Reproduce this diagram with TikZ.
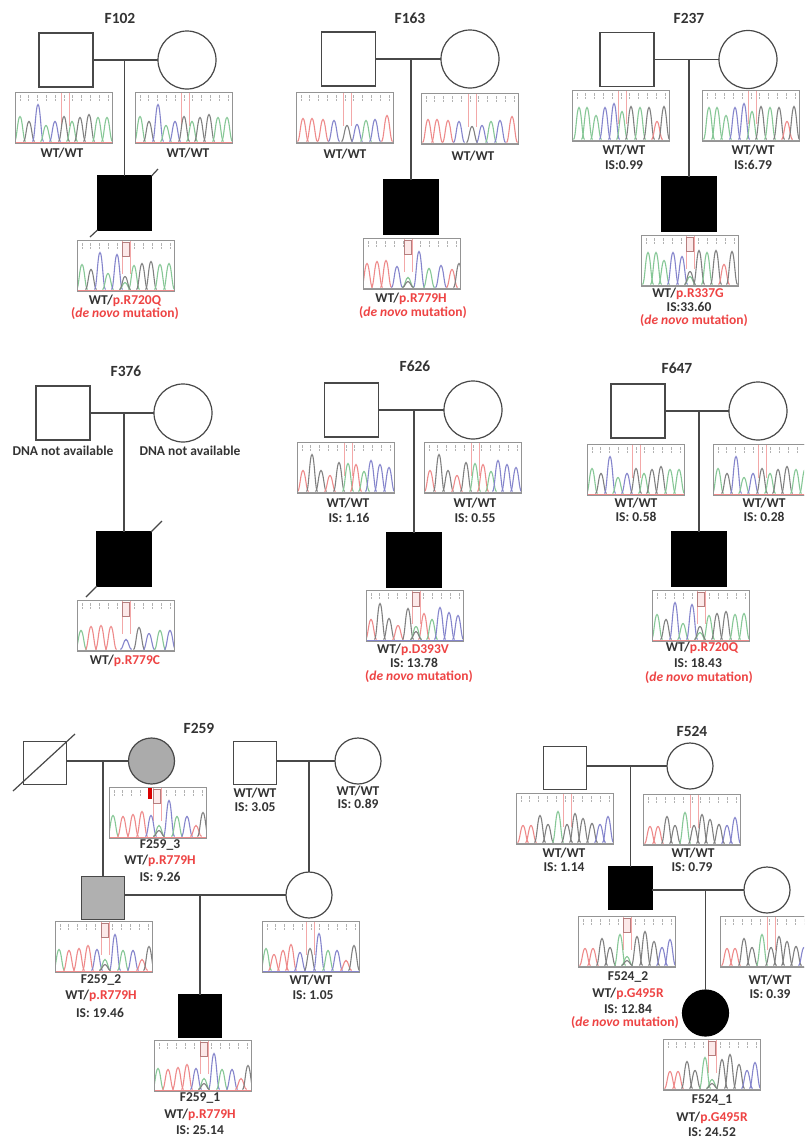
\documentclass[tikz,border=0pt]{standalone}
\usepackage{fontspec}
\setmainfont{Carlito}
\definecolor{tg}{HTML}{86C796}
\definecolor{tk}{HTML}{808080}
\definecolor{tb}{HTML}{8585CC}
\definecolor{tr}{HTML}{EE8A8A}
\definecolor{mred}{HTML}{EE4444}
\definecolor{ink}{HTML}{333333}
\definecolor{lineink}{HTML}{484848}
\definecolor{pinkband}{HTML}{F3A8A8}
\tikzset{
  person/.style={draw=lineink,line width=1.2pt,fill=white,inner sep=0pt,outer sep=0pt},
  sqr/.style={person,rectangle,minimum size=#1},
  crc/.style={person,circle,minimum size=#1},
  aff/.style={fill=black,draw=black},
  conn/.style={draw=lineink,line width=1.2pt},
  lab/.style={inner sep=0pt,text=ink,font=\fontsize{13.5}{14}\selectfont\bfseries},
  ttl/.style={inner sep=0pt,text=ink,font=\fontsize{15.5}{16}\selectfont\bfseries},
  chrombox/.style={draw=black!42,line width=1pt,fill=white,minimum width=97pt,minimum height=51pt,inner sep=0pt,outer sep=0pt,anchor=north west},
  trace/.style={line width=1.1pt}
}
\newcommand{\mutc}[1]{\textcolor{mred}{#1}}
\newcommand{\denovo}{\textcolor{mred}{(\textit{de novo} mutation)}}
\newcommand{\lab}[4]{\node[lab] (#1) at (#2,#3) {#4};}
% name, x, y, centre offset, peak list, baseline colour, mutant flag
\newcommand{\chrom}[7]{%
  \node[chrombox] (#1) at (#2,#3) {};
  \begin{scope}
    \clip (#2,#3) rectangle ++(97,51);
    \foreach \t in {5,13.8,...,94}{
      \draw[black!30,line width=0.8pt] ({#2+\t},{#3+3}) -- ++(0,2.5) ({#2+\t},{#3+6.5}) -- ++(0,2);
    }
    \draw[pinkband,line width=0.9pt] ({#2+#4-4},{#3+1}) -- ++(0,33) ({#2+#4+4},{#3+1}) -- ++(0,33);
    \ifnum#7=1
      \draw[black!25!pinkband,line width=0.8pt,fill=pinkband!25] ({#2+#4-3.5},{#3+2}) rectangle ++(7,14);
    \fi
    \foreach \o/\c/\h in #5{
      \draw[trace,\c] ({#2+\o-5.5},{#3+49.5}) .. controls ({#2+\o-3.2},{#3+49.5}) and ({#2+\o-2.4},{#3+49.5-\h}) .. ({#2+\o},{#3+49.5-\h})
        .. controls ({#2+\o+2.4},{#3+49.5-\h}) and ({#2+\o+3.2},{#3+49.5}) .. ({#2+\o+5.5},{#3+49.5});
    }
    \draw[#6,line width=1pt] (#2,{#3+50}) -- ++(97,0);
  \end{scope}
  \draw[black!42,line width=1pt] (#2,#3) rectangle ++(97,51);
}
\def\pA{5/tg/25,14/tk/20,23/tb/37,31/tg/16,40/tb/20,49/tk/25,57/tg/20,65/tk/24,74/tk/27,83/tg/24,92/tg/24}
\def\pAm{5/tg/25,14/tk/20,23/tb/37,31/tg/16,40/tb/35,57/tg/24,65/tk/26,74/tk/28,83/tg/25,92/tg/26,48/tg/7,48/tk/13}
\def\pB{7/tr/23,16/tr/23,27/tr/22,38/tb/21,51/tk/16,61/tb/17,70/tg/21,79/tb/22,91/tr/26}
\def\pBm{4/tr/24,14/tr/26,23/tr/27,34/tb/21,56/tb/36,66/tg/19,78/tb/22,89/tr/18,96/tk/24,45/tg/10,45/tk/6}
\def\pC{7/tg/32,15/tg/32,24/tg/24,33/tb/32,42/tb/36,50/tg/28,59/tk/33,68/tg/32,77/tk/32,85/tr/18,92/tk/33}
\def\pCm{7/tg/32,15/tg/32,23/tg/24,32/tb/32,41/tb/28,58/tk/34,66/tg/32,75/tk/34,83/tr/20,91/tk/33,49/tg/8,49/tk/13}
\def\pD{4/tg/19,14/tr/23,24/tr/24,34/tr/23,62/tk/22,72/tb/16,83/tg/19,93/tb/19,49/tb/10}
\def\pE{6/tr/21,15/tk/37,24/tk/21,33/tr/16,42/tk/29,51/tg/28,59/tr/27,67/tg/20,74/tb/31,83/tb/27,92/tb/24}
\def\pEm{5/tr/20,14/tk/36,23/tk/21,32/tr/14,42/tk/31,58/tr/26,66/tg/20,74/tb/32,83/tb/27,92/tb/24,50/tg/13,50/tk/8}
\def\pF{4/tg/22,12/tr/16,21/tr/20,29/tr/26,38/tb/18,48/tk/22,57/tb/37,66/tg/20,75/tb/20,84/tr/10,92/tk/25}
\def\pFm{4/tg/21,14/tr/20,24/tr/22,33/tr/25,42/tb/21,60/tb/36,68/tg/20,78/tb/20,87/tr/11,94/tk/24,50/tg/11,50/tk/6}
\def\pG{7/tr/17,15/tr/17,24/tk/27,32/tk/18,42/tg/31,51/tk/18,59/tk/29,67/tk/24,76/tk/19,84/tb/18,92/tb/26}
\def\pGm{7/tr/17,15/tr/17,24/tk/27,32/tk/18,42/tg/31,59/tk/29,67/tk/34,76/tk/24,84/tb/18,92/tb/26,49/tg/9,49/tk/5}
\begin{document}
\begin{tikzpicture}[x=1pt,y=-1pt]
\useasboundingbox (0,0) rectangle (804,1138);
\clip (0,0) rectangle (804,1138);
\fill[white] (0,0) rectangle (804,1138);

% ---------- F102
\node[ttl] (t102) at (120,18) {F102};
\node[sqr=54pt] (a1) at (66,60) {};
\node[crc=58pt] (a2) at (187,60) {};
\node[sqr=54pt,aff] (a3) at (124.5,203) {};
\draw[conn] (a1) -- (a2);
\draw[conn] (a3.north |- a1.east) -- (a3.north);
\coordinate (a3t) at (158,169); \coordinate (a3b) at (90,237);
\draw[conn] (a3.north east) -- (a3t);
\draw[conn] (a3.south west) -- (a3b);
\chrom{ac1}{15}{92}{50}{\pA}{tr}{0}
\chrom{ac2}{135}{92}{50}{\pA}{tr}{0}
\chrom{ac3}{77}{240}{49}{\pAm}{tr}{1}
\lab{al1}{62}{153}{WT/WT}
\lab{al2}{188}{153}{WT/WT}
\lab{al3}{125}{301}{WT/\mutc{p.R720Q}}
\lab{al4}{125}{314}{\denovo}

% ---------- F163
\node[ttl] (t163) at (410,18) {F163};
\node[sqr=54pt] (b1) at (348.5,59) {};
\node[crc=58pt] (b2) at (470,59) {};
\node[sqr=54pt,aff] (b3) at (411,207) {};
\draw[conn] (b1) -- (b2);
\draw[conn] (b3.north |- b1.east) -- (b3.north);
\chrom{bc1}{296}{92}{51}{\pB}{black!40}{0}
\chrom{bc2}{421}{93}{51}{\pB}{black!40}{0}
\chrom{bc3}{363}{238}{45}{\pBm}{black!40}{1}
\lab{bl1}{345}{154}{WT/WT}
\lab{bl2}{473}{156}{WT/WT}
\lab{bl3}{411}{299}{WT/\mutc{p.R779H}}
\lab{bl4}{413}{313}{\denovo}

% ---------- F237
\node[ttl] (t237) at (689,18) {F237};
\node[sqr=54pt] (c1) at (627,59.5) {};
\node[crc=58pt] (c2) at (748,59.5) {};
\node[sqr=54pt,aff] (c3) at (689,204) {};
\draw[conn] (c1) -- (c2);
\draw[conn] (c3.north |- c1.east) -- (c3.north);
\chrom{cc1}{572}{90}{50}{\pC}{black!40}{0}
\chrom{cc2}{702}{90}{50}{\pC}{black!40}{0}
\chrom{cc3}{641}{235}{49}{\pCm}{black!40}{1}
\lab{cl1}{624}{150}{WT/WT}
\lab{cl2}{624}{165}{IS:0.99}
\lab{cl3}{753}{150}{WT/WT}
\lab{cl4}{753}{165}{IS:6.79}
\lab{cl5}{688}{294}{WT/\mutc{p.R337G}}
\lab{cl6}{689}{307}{IS:33.60}
\lab{cl7}{694}{321}{\denovo}

% ---------- F376
\node[ttl] (t376) at (126,371) {F376};
\node[sqr=54pt] (d1) at (63,413) {};
\node[crc=58pt] (d2) at (183,413) {};
\node[sqr=54pt,aff] (d3) at (124,559) {};
\draw[conn] (d1) -- (d2);
\draw[conn] (d3.north |- d1.east) -- (d3.north);
\coordinate (d3t) at (162,521); \coordinate (d3b) at (86,597);
\draw[conn] (d3.north east) -- (d3t);
\draw[conn] (d3.south west) -- (d3b);
\chrom{dc1}{77}{600}{49}{\pD}{black!40}{1}
\lab{dl1}{63}{451}{DNA not available}
\lab{dl2}{190}{451}{DNA not available}
\lab{dl3}{125}{661}{WT/\mutc{p.R779C}}

% ---------- F626
\node[ttl] (t626) at (415,366) {F626};
\node[sqr=54pt] (e1) at (351.5,410) {};
\node[crc=58pt] (e2) at (473,410) {};
\node[sqr=54pt,aff] (e3) at (414,560) {};
\draw[conn] (e1) -- (e2);
\draw[conn] (e3.north |- e1.east) -- (e3.north);
\chrom{ec1}{297}{442}{51}{\pE}{black!40}{0}
\chrom{ec2}{424}{442}{51}{\pE}{black!40}{0}
\chrom{ec3}{366}{590}{50}{\pEm}{tb}{1}
\lab{el1}{348}{503}{WT/WT}
\lab{el2}{349}{518}{IS: 1.16}
\lab{el3}{475}{503}{WT/WT}
\lab{el4}{475}{518}{IS: 0.55}
\lab{el5}{413}{649.5}{WT/\mutc{p.D393V}}
\lab{el6}{414}{663}{IS: 13.78}
\lab{el7}{419}{677}{\denovo}

% ---------- F647
\node[ttl] (t647) at (677,368) {F647};
\node[sqr=54pt] (f1) at (638,411) {};
\node[crc=58pt] (f2) at (758,411) {};
\node[sqr=54pt,aff] (f3) at (699,559) {};
\draw[conn] (f1) -- (f2);
\draw[conn] (f3.north |- f1.east) -- (f3.north);
\chrom{fc1}{587}{444}{49}{\pA}{tr}{0}
\chrom{fc2}{713}{444}{49}{\pA}{tr}{0}
\chrom{fc3}{652}{590}{49}{\pAm}{tr}{1}
\lab{fl1}{636}{503}{WT/WT}
\lab{fl2}{636}{517}{IS: 0.58}
\lab{fl3}{764}{503}{WT/WT}
\lab{fl4}{764}{517}{IS: 0.28}
\lab{fl5}{702}{648}{WT/\mutc{p.R720Q}}
\lab{fl6}{698}{663}{IS: 18.43}
\lab{fl7}{699}{678}{\denovo}

% ---------- F259
\node[ttl] (t259) at (199,728) {F259};
\node[sqr=43pt] (g1) at (45,763) {};
\coordinate (g1a) at (13,791); \coordinate (g1b) at (75,734);
\draw[conn] (g1a) -- (g1b);
\node[crc=46pt,fill=black!33] (g2) at (151.5,761) {};
\node[sqr=43pt] (g3) at (255,763) {};
\node[crc=46pt] (g4) at (358,761) {};
\node[sqr=43pt,fill=black!31] (g5) at (103,898) {};
\node[crc=46pt] (g6) at (309,895) {};
\node[sqr=43pt,aff] (g7) at (200,1016) {};
\draw[conn] (g1.east |- g2.west) -- (g2.west);
\draw[conn] (g5.north |- g2.west) -- (g5.north);
\draw[conn] (g3.east |- g4.west) -- (g4.west);
\draw[conn] (g6.north |- g4.west) -- (g6.north);
\draw[conn] (g5.east |- g6.west) -- (g6.west);
\draw[conn] (g7.north |- g6.west) -- (g7.north);
\chrom{gc1}{109}{787}{48}{\pFm}{tr}{1}
\fill[red!85!black] (148,788) rectangle (152,799);
\chrom{gc2}{55}{921}{50}{\pFm}{tr}{1}
\chrom{gc3}{262}{921}{48}{\pF}{tb}{0}
\chrom{gc4}{154}{1040}{50}{\pFm}{tr}{1}
\lab{gl1}{160}{845}{F259\_3}
\lab{gl2}{160}{861}{WT/\mutc{p.R779H}}
\lab{gl3}{160}{877}{IS: 9.26}
\lab{gl4}{255}{793}{WT/WT}
\lab{gl5}{255}{807}{IS: 3.05}
\lab{gl6}{358}{791}{WT/WT}
\lab{gl7}{358}{804}{IS: 0.89}
\lab{gl8}{101}{980}{F259\_2}
\lab{gl9}{101}{996}{WT/\mutc{p.R779H}}
\lab{gl10}{100}{1013}{IS: 19.46}
\lab{gl11}{311}{980}{WT/WT}
\lab{gl12}{313}{995}{IS: 1.05}
\lab{gl13}{200}{1098}{F259\_1}
\lab{gl14}{200}{1115}{WT/\mutc{p.R779H}}
\lab{gl15}{200}{1130}{IS: 25.14}

% ---------- F524
\node[ttl] (t524) at (692,731) {F524};
\node[sqr=43pt] (h1) at (565,768) {};
\node[crc=46pt] (h2) at (690,766) {};
\node[sqr=43pt,aff] (h3) at (630.5,888) {};
\node[crc=46pt] (h4) at (767,890) {};
\node[crc=46pt,aff] (h5) at (705.5,1013) {};
\draw[conn] (h1.east |- h2.west) -- (h2.west);
\draw[conn] (h3.north |- h2.west) -- (h3.north);
\draw[conn] (h3.east |- h4.west) -- (h4.west);
\draw[conn] (h5.north |- h4.west) -- (h5.north);
\chrom{hc1}{516}{793}{51}{\pG}{black!40}{0}
\chrom{hc2}{643}{794}{51}{\pG}{black!40}{0}
\chrom{hc3}{578}{916}{49}{\pGm}{black!40}{1}
\chrom{hc4}{720}{916}{51}{\pG}{black!40}{0}
\chrom{hc5}{663}{1039}{49}{\pGm}{black!40}{1}
\lab{hl1}{564}{853}{WT/WT}
\lab{hl2}{564}{867}{IS: 1.14}
\lab{hl3}{693}{853}{WT/WT}
\lab{hl4}{692}{867}{IS: 0.79}
\lab{hl5}{628}{977}{F524\_2}
\lab{hl6}{628}{994}{WT/\mutc{p.G495R}}
\lab{hl7}{628}{1008.5}{IS: 12.84}
\lab{hl8}{625}{1022}{\denovo}
\lab{hl9}{770}{980}{WT/WT}
\lab{hl10}{770}{994}{IS: 0.39}
\lab{hl11}{712}{1100}{F524\_1}
\lab{hl12}{712}{1118}{WT/\mutc{p.G495R}}
\lab{hl13}{712}{1132}{IS: 24.52}
\end{tikzpicture}
\end{document}
